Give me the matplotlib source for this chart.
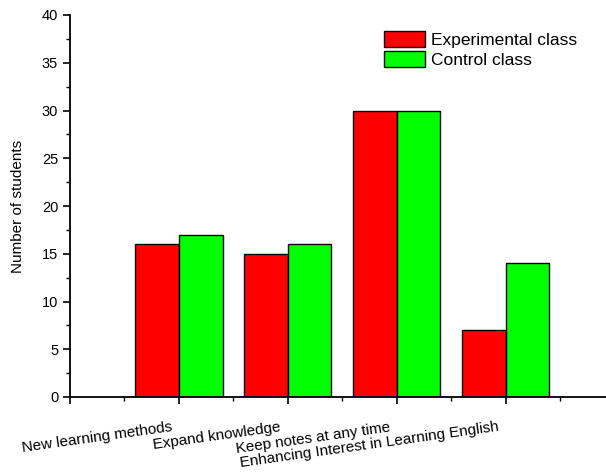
import matplotlib
matplotlib.use("Agg")
import matplotlib.pyplot as plt
from matplotlib.ticker import MultipleLocator, FixedLocator, NullFormatter
import numpy as np

plt.rcParams["font.family"] = ["Liberation Sans", "DejaVu Sans"]

categories = ["New learning methods", "Expand knowledge",
              "Keep notes at any time", "Enhancing Interest in Learning English"]
experimental = [16, 15, 30, 7]
control = [17, 16, 30, 14]

x = np.arange(1, len(categories) + 1)
w = 0.4

fig = plt.figure(figsize=(6.06, 4.74), dpi=100)
ax = fig.add_axes([70 / 606, 77 / 474, 536 / 606, 382 / 474])

ax.bar(x - w / 2, experimental, w, color="#ff0000", edgecolor="black",
       linewidth=1.0, label="Experimental class")
ax.bar(x + w / 2, control, w, color="#00ff00", edgecolor="black",
       linewidth=1.0, label="Control class")

ax.set_xlim(0, 4.92)
ax.set_ylim(0, 40)
ax.yaxis.set_major_locator(MultipleLocator(5))
ax.yaxis.set_minor_locator(MultipleLocator(2.5))
ax.xaxis.set_major_locator(FixedLocator([0, 1, 2, 3, 4]))
ax.xaxis.set_minor_locator(FixedLocator([0.5, 1.5, 2.5, 3.5, 4.5]))
ax.xaxis.set_major_formatter(NullFormatter())

# slanted category labels, sitting just left of each tick
for xi, name in zip(x, categories):
    ax.annotate(name, xy=(xi, 0), xycoords=ax.get_xaxis_transform(),
                xytext=(-8, -23), textcoords="offset pixels",
                rotation=8, ha="right", va="top", rotation_mode="anchor",
                fontsize=11, annotation_clip=False)

ax.spines["top"].set_visible(False)
ax.spines["right"].set_visible(False)
for s in ["left", "bottom"]:
    ax.spines[s].set_linewidth(1.3)

ax.tick_params(which="major", direction="out", length=5, width=1.2)
ax.tick_params(which="minor", direction="out", length=3, width=1.0)
ax.tick_params(axis="y", labelsize=10.5)

ax.set_ylabel("Number of students", fontsize=11, labelpad=12)

ax.legend(loc="upper left", bbox_to_anchor=(0.556, 1.0), frameon=False,
          fontsize=12.5, handlelength=2.36, handleheight=1.1,
          labelspacing=0.17, handletextpad=0.35)

fig.savefig("out.png", dpi=100)
